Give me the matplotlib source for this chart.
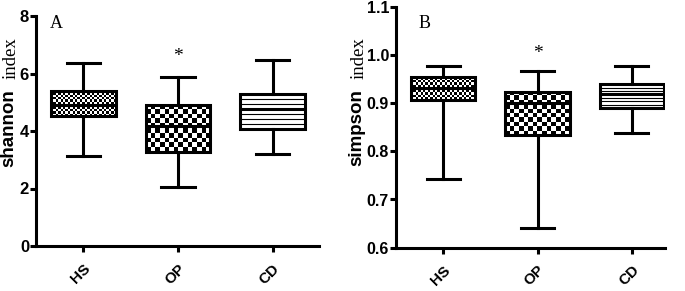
import numpy as np
import matplotlib
matplotlib.use("Agg")
import matplotlib.pyplot as plt

groups = ["HS", "OP", "CD"]
# Shannon index box stats: whislo, q1, med, q3, whishi
shannon_lo = [3.13, 2.06, 3.21]
shannon_q1 = [4.51, 3.26, 4.07]
shannon_med = [4.92, 4.17, 4.75]
shannon_q3 = [5.39, 4.90, 5.28]
shannon_hi = [6.38, 5.88, 6.46]

simpson_lo = [0.742, 0.640, 0.839]
simpson_q1 = [0.907, 0.833, 0.890]
simpson_med = [0.932, 0.900, 0.918]
simpson_q3 = [0.954, 0.923, 0.939]
simpson_hi = [0.976, 0.966, 0.978]

fig = plt.figure(figsize=(6.85, 2.91), dpi=100)
axA = fig.add_axes([36/685, 1-246/291, (319-36)/685, (246-16)/291])
axB = fig.add_axes([396/685, 1-247.7/291, (665-396)/685, (247.7-6.7)/291])

LW = 2.2

def draw(ax, lo, q1, med, q3, hi, ylim, yticks, xlim, cellpx):
    stats = []
    for i in range(3):
        stats.append(dict(whislo=lo[i], q1=q1[i], med=med[i], q3=q3[i], whishi=hi[i], label=groups[i]))
    bp = ax.bxp(stats, positions=[1, 2, 3], widths=0.68, patch_artist=True, showfliers=False,
                boxprops=dict(facecolor="white", edgecolor="black", linewidth=LW),
                whiskerprops=dict(color="black", linewidth=LW),
                capprops=dict(color="black", linewidth=LW),
                medianprops=dict(color="black", linewidth=LW), capwidths=0.35)
    ax.set_xlim(*xlim)
    ax.set_ylim(*ylim)
    fig.canvas.draw()
    bb = ax.get_window_extent()
    pxx = bb.width / (xlim[1] - xlim[0])
    pxy = bb.height / (ylim[1] - ylim[0])
    for i, patch in enumerate(bp["boxes"]):
        x0, x1 = i + 1 - 0.34, i + 1 + 0.34
        y0, y1 = q1[i], q3[i]
        if i < 2:
            c = cellpx[i]
            nx = max(1, int(round((x1 - x0) * pxx / c)))
            ny = max(1, int(round((y1 - y0) * pxy / c)))
            yy, xx = np.indices((ny, nx))
            arr = ((xx + yy) % 2).astype(float)
            im = ax.imshow(arr, extent=(x0, x1, y0, y1), cmap="gray", vmin=0, vmax=1,
                           aspect="auto", interpolation="nearest", origin="lower", zorder=2.05)
            im.set_clip_path(patch)
        else:
            nlines = 7
            for k in range(1, nlines):
                yv = y0 + (y1 - y0) * k / nlines
                ax.plot([x0, x1], [yv, yv], color="black", lw=0.8, zorder=2.05)
    for l in bp["medians"]:
        l.set_zorder(3)
    for b in bp["boxes"]:
        b.set_zorder(2.1)
        b.set_facecolor("none")
    ax.set_xlim(*xlim)
    ax.set_ylim(*ylim)
    ax.set_yticks(yticks)
    ax.set_xticks([1, 2, 3])
    ax.set_xticklabels(groups, rotation=45, ha="right", rotation_mode="anchor",
                       fontweight="bold", fontsize=11, family="Liberation Sans")
    for s in ["top", "right"]:
        ax.spines[s].set_visible(False)
    for s in ["left", "bottom"]:
        ax.spines[s].set_linewidth(LW)
    ax.tick_params(axis="x", width=LW, length=4, direction="out", pad=7)
    ax.tick_params(axis="y", width=LW, length=4, direction="out", pad=1)

draw(axA, shannon_lo, shannon_q1, shannon_med, shannon_q3, shannon_hi,
     (0, 8), [0, 2, 4, 6, 8], (0.5, 3.49), [2.4, 4.5])
axA.set_yticklabels(["0", "2", "4", "6", "8"], fontweight="bold", fontsize=12, family="Liberation Sans")
draw(axB, simpson_lo, simpson_q1, simpson_med, simpson_q3, simpson_hi,
     (0.6, 1.1), [0.6, 0.7, 0.8, 0.9, 1.0, 1.1], (0.5, 3.35), [2.4, 4.5])
axB.set_yticklabels(["0.6", "0.7", "0.8", "0.9", "1.0", "1.1"], fontweight="bold", fontsize=11.5,
                    family="Liberation Sans")

# y labels
fig.text(9/685, 1-128/291, "shannon", rotation=90, ha="center", va="center",
         fontweight="bold", fontsize=13.5, family="Liberation Sans")
fig.text(11/685, 1-58/291, "index", rotation=90, ha="center", va="center",
         fontsize=13.5, family="Liberation Serif")
fig.text(357/685, 1-128/291, "simpson", rotation=90, ha="center", va="center",
         fontweight="bold", fontsize=13.5, family="Liberation Sans")
fig.text(359/685, 1-58/291, "index", rotation=90, ha="center", va="center",
         fontsize=13.5, family="Liberation Serif")

# panel letters and stars
fig.text(56/685, 1-24/291, "A", ha="center", va="center", fontsize=13, family="Liberation Serif")
fig.text(425/685, 1-23/291, "B", ha="center", va="center", fontsize=13, family="Liberation Serif")
axA.text(2, 6.29, "*", ha="center", va="bottom", fontsize=14, family="Liberation Serif")
axB.text(2, 0.986, "*", ha="center", va="bottom", fontsize=14, family="Liberation Serif")

fig.savefig("out.png", dpi=100)
